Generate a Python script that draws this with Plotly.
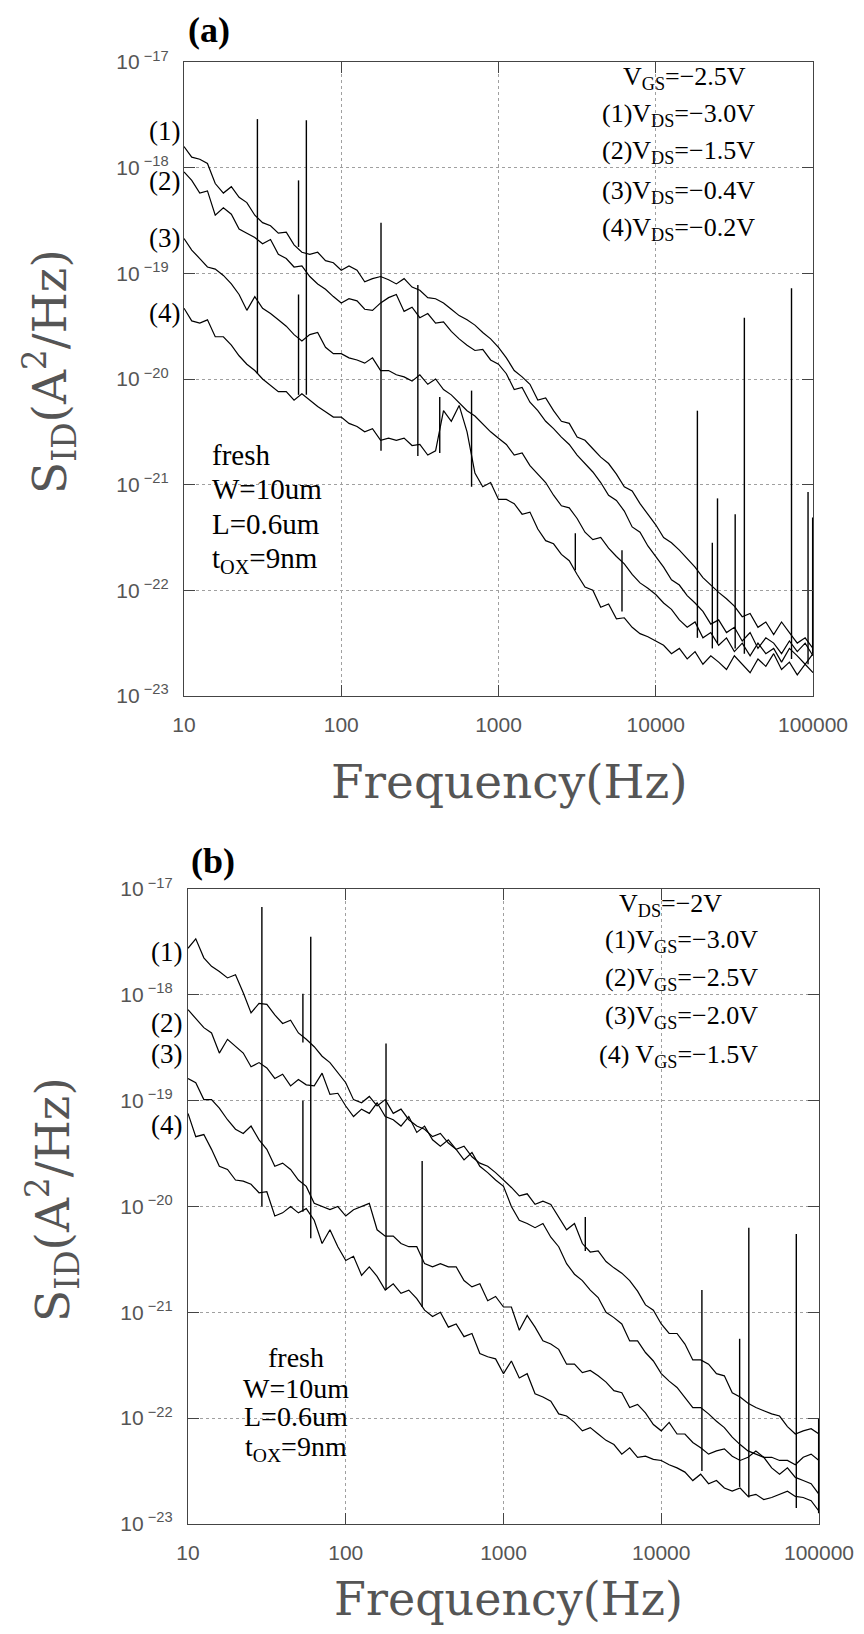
import plotly.graph_objects as go

W, H = 864, 1634
OFF = 8  # page body margin around the plot div
FW, FH = W - 2 * OFF, H - 2 * OFF

# sample frequencies (Hz), shared by all curves
freq = [10, 11.2, 12.6, 14.1, 15.8, 17.8, 20.0, 22.4, 25.1, 28.2,
        31.6, 35.5, 39.8, 44.7, 50.1, 56.2, 63.1, 70.8, 79.4, 89.1,
        100, 112, 126, 141, 158, 178, 200, 224, 251, 282,
        316, 355, 398, 447, 501, 562, 631, 708, 794, 891,
        1000, 1122, 1259, 1413, 1585, 1778, 1995, 2239, 2512, 2818,
        3162, 3548, 3981, 4467, 5012, 5623, 6310, 7079, 7943, 8913,
        10000, 11220, 12590, 14130, 15850, 17780, 19950, 22390, 25120, 28180,
        31620, 35480, 39810, 44670, 50120, 56230, 63100, 70790, 79430, 89130,
        100000]

# panel (a): log10 of S_ID, VGS=-2.5V
a1_exp = [-17.80, -17.90, -17.92, -17.96, -18.15, -18.24, -18.18, -18.28, -18.33, -18.45,
          -18.52, -18.55, -18.62, -18.61, -18.73, -18.80, -18.82, -18.80, -18.88, -18.90,
          -18.97, -18.93, -18.97, -19.08, -19.05, -19.03, -19.06, -19.10, -19.05, -19.13,
          -19.16, -19.23, -19.24, -19.28, -19.34, -19.40, -19.44, -19.49, -19.56, -19.62, -19.70,
          -19.80, -19.92, -19.98, -20.05, -20.20, -20.18, -20.30, -20.40, -20.42, -20.55,
          -20.58, -20.66, -20.74, -20.80, -20.90, -21.02, -21.06, -21.18, -21.28, -21.38,
          -21.50, -21.55, -21.62, -21.70, -21.78, -21.88, -21.95, -22.02, -22.08, -22.15,
          -22.25, -22.22, -22.35, -22.30, -22.42, -22.30, -22.40, -22.50, -22.45, -22.55]
a2_exp = [-18.04, -18.12, -18.24, -18.22, -18.45, -18.38, -18.44, -18.58, -18.62, -18.66,
          -18.72, -18.68, -18.82, -18.86, -18.94, -18.93, -19.03, -19.10, -19.15, -19.22,
          -19.28, -19.24, -19.26, -19.34, -19.35, -19.28, -19.23, -19.20, -19.36, -19.32,
          -19.42, -19.38, -19.47, -19.46, -19.55, -19.62, -19.68, -19.73, -19.72, -19.82, -19.86,
          -19.95, -20.10, -20.08, -20.22, -20.30, -20.40, -20.47, -20.55, -20.62, -20.72,
          -20.80, -20.88, -20.98, -21.10, -21.15, -21.25, -21.40, -21.45, -21.58, -21.68,
          -21.78, -21.90, -21.95, -22.05, -22.12, -22.20, -22.32, -22.28, -22.40, -22.35,
          -22.48, -22.40, -22.55, -22.45, -22.50, -22.60, -22.48, -22.58, -22.50, -22.62]
a3_exp = [-18.67, -18.78, -18.86, -18.94, -18.96, -19.02, -19.10, -19.20, -19.35, -19.22,
          -19.33, -19.38, -19.44, -19.50, -19.58, -19.64, -19.58, -19.56, -19.70, -19.76,
          -19.76, -19.80, -19.82, -19.85, -19.80, -19.92, -19.92, -19.96, -19.98, -20.02,
          -19.96, -20.05, -20.00, -20.10, -20.15, -20.22, -20.30, -20.35, -20.42, -20.50, -20.56,
          -20.62, -20.72, -20.70, -20.82, -20.90, -20.98, -21.10, -21.20, -21.22, -21.32,
          -21.45, -21.52, -21.50, -21.60, -21.68, -21.75, -21.85, -21.93, -21.98, -22.04,
          -22.12, -22.18, -22.28, -22.35, -22.30, -22.45, -22.40, -22.52, -22.45, -22.58,
          -22.50, -22.62, -22.50, -22.60, -22.55, -22.68, -22.55, -22.62, -22.70, -22.60]
a4_exp = [-19.33, -19.45, -19.47, -19.44, -19.60, -19.60, -19.68, -19.78, -19.86, -19.92,
          -20.00, -20.06, -20.12, -20.12, -20.20, -20.14, -20.20, -20.26, -20.31, -20.36,
          -20.36, -20.42, -20.45, -20.50, -20.47, -20.58, -20.56, -20.58, -20.56, -20.63,
          -20.62, -20.72, -20.68, -20.30, -20.40, -20.25, -20.50, -20.89, -21.02, -20.98, -21.14,
          -21.14, -21.18, -21.28, -21.26, -21.42, -21.53, -21.56, -21.66, -21.72, -21.85,
          -21.97, -22.00, -22.16, -22.13, -22.27, -22.26, -22.35, -22.41, -22.44, -22.48,
          -22.52, -22.60, -22.55, -22.65, -22.58, -22.70, -22.62, -22.68, -22.75, -22.62,
          -22.70, -22.78, -22.65, -22.72, -22.60, -22.75, -22.68, -22.80, -22.70, -22.78]

# panel (a) narrow peaks / jumps: frequency, foot, top (log10)
spike_f_a = [29.3, 53.5, 53.5, 60.0, 179, 307, 423, 674, 3080, 6100,
             18400, 22900, 24700, 32000, 36600, 73000, 93000, 99500]
spike_lo_a = [-19.95, -18.75, -20.15, -20.15, -20.68, -20.73, -20.70, -21.02, -21.81, -22.20,
              -22.45, -22.55, -22.50, -22.55, -22.60, -22.65, -22.70, -22.60]
spike_hi_a = [-17.54, -18.12, -19.20, -17.55, -18.52, -19.11, -20.17, -20.11, -21.46, -21.62,
              -20.30, -21.55, -21.13, -21.28, -19.42, -19.14, -21.07, -21.31]

# panel (b): log10 of S_ID, VDS=-2V
b1_exp = [-17.56, -17.47, -17.65, -17.73, -17.78, -17.84, -17.81, -17.98, -18.17, -18.08,
          -18.09, -18.19, -18.27, -18.24, -18.36, -18.42, -18.49, -18.58, -18.64, -18.74,
          -18.83, -18.99, -19.02, -18.96, -19.05, -18.99, -19.12, -19.08, -19.18, -19.24,
          -19.27, -19.34, -19.31, -19.40, -19.46, -19.43, -19.53, -19.59, -19.62, -19.68, -19.75,
          -19.82, -19.90, -19.88, -19.98, -19.95, -19.98, -20.10, -20.22, -20.16, -20.35,
          -20.43, -20.42, -20.52, -20.58, -20.63, -20.70, -20.80, -20.93, -20.98, -21.11,
          -21.20, -21.20, -21.30, -21.45, -21.45, -21.49, -21.58, -21.60, -21.76, -21.80,
          -21.86, -21.90, -21.93, -21.96, -21.98, -22.08, -22.15, -22.12, -22.10, -22.15]
b2_exp = [-18.14, -18.22, -18.31, -18.36, -18.55, -18.42, -18.49, -18.55, -18.68, -18.64,
          -18.69, -18.79, -18.75, -18.86, -18.80, -18.85, -18.86, -18.74, -18.94, -18.93,
          -19.05, -19.15, -19.08, -19.12, -19.02, -19.15, -19.18, -19.24, -19.15, -19.30,
          -19.24, -19.37, -19.43, -19.37, -19.46, -19.56, -19.49, -19.62, -19.68, -19.75, -19.81,
          -20.00, -20.13, -20.16, -20.20, -20.16, -20.29, -20.38, -20.54, -20.64, -20.70,
          -20.79, -20.86, -21.00, -21.05, -21.11, -21.27, -21.27, -21.38, -21.46, -21.58,
          -21.65, -21.71, -21.80, -21.90, -21.90, -21.96, -22.03, -22.09, -22.18, -22.25,
          -22.31, -22.34, -22.37, -22.37, -22.40, -22.40, -22.44, -22.37, -22.34, -22.40]
b3_exp = [-18.79, -18.83, -18.99, -18.99, -19.07, -19.18, -19.27, -19.31, -19.24, -19.37,
          -19.46, -19.62, -19.59, -19.65, -19.75, -19.81, -19.97, -20.00, -20.03, -20.00,
          -20.09, -20.03, -20.00, -19.97, -20.22, -20.28, -20.28, -20.35, -20.38, -20.38,
          -20.54, -20.57, -20.54, -20.57, -20.57, -20.70, -20.76, -20.73, -20.89, -20.85, -20.95,
          -20.95, -21.17, -21.03, -21.14, -21.27, -21.30, -21.35, -21.49, -21.49, -21.57,
          -21.55, -21.60, -21.66, -21.74, -21.76, -21.90, -21.87, -21.95, -22.06, -22.12,
          -22.04, -22.15, -22.15, -22.23, -22.28, -22.34, -22.31, -22.29, -22.36, -22.40,
          -22.37, -22.31, -22.37, -22.47, -22.53, -22.47, -22.56, -22.59, -22.62, -22.72]
b4_exp = [-19.12, -19.34, -19.32, -19.46, -19.62, -19.65, -19.75, -19.76, -19.79, -19.87,
          -19.86, -20.09, -20.06, -20.00, -20.06, -20.02, -20.13, -20.35, -20.22, -20.38,
          -20.51, -20.47, -20.65, -20.57, -20.66, -20.79, -20.73, -20.82, -20.79, -20.87,
          -20.98, -21.04, -21.00, -21.14, -21.11, -21.23, -21.20, -21.39, -21.42, -21.44, -21.58,
          -21.46, -21.62, -21.58, -21.77, -21.80, -21.84, -21.96, -21.98, -22.04, -22.12,
          -22.09, -22.15, -22.21, -22.25, -22.34, -22.28, -22.37, -22.36, -22.39, -22.40,
          -22.44, -22.47, -22.51, -22.59, -22.53, -22.62, -22.59, -22.66, -22.69, -22.66,
          -22.74, -22.72, -22.77, -22.75, -22.72, -22.69, -22.74, -22.75, -22.78, -22.88]

spike_f_b = [29.4, 53.5, 53.5, 60.0, 180, 305, 3300, 18100, 31400, 35900, 71800, 99500]
spike_lo_b = [-20.00, -18.45, -20.05, -20.30, -20.79, -20.95, -20.42, -22.50, -22.65, -22.75, -22.85, -22.90]
spike_hi_b = [-17.17, -17.99, -19.00, -17.45, -18.46, -19.57, -20.10, -20.79, -21.25, -20.20, -20.26, -22.00]

for s in [a1_exp, a2_exp, a3_exp, a4_exp, b1_exp, b2_exp, b3_exp, b4_exp]:
    assert len(s) == len(freq), len(s)

x_ticks = [10, 100, 1000, 10000, 100000]
y_ticks = [-23, -22, -21, -20, -19, -18, -17]


# page pixel -> paper fraction
def px(x):
    return (x - OFF) / FW


def py(y):
    return 1 - (y - OFF) / FH


fig = go.Figure()

panels = [
    ("x", "y", [a1_exp, a2_exp, a3_exp, a4_exp], spike_f_a, spike_lo_a, spike_hi_a),
    ("x2", "y2", [b1_exp, b2_exp, b3_exp, b4_exp], spike_f_b, spike_lo_b, spike_hi_b),
]
for xa, ya, curves, sf, slo, shi in panels:
    for c in curves:
        fig.add_trace(go.Scatter(x=freq, y=[10 ** v for v in c], mode="lines",
                                 line=dict(color="black", width=1.2),
                                 xaxis=xa, yaxis=ya, showlegend=False, hoverinfo="skip"))
    sx, sy = [], []
    for f, lo, hi in zip(sf, slo, shi):
        sx += [f, f, None]
        sy += [10 ** lo, 10 ** hi, None]
    fig.add_trace(go.Scatter(x=sx, y=sy, mode="lines", line=dict(color="black", width=1.4),
                             xaxis=xa, yaxis=ya, showlegend=False, hoverinfo="skip"))

axis_common = dict(showline=True, linecolor="#444", linewidth=1.2, mirror="ticks",
                   ticks="inside", ticklen=11, tickcolor="#444", tickwidth=1.2,
                   showgrid=True, gridcolor="#a0a0a0", griddash="dot", gridwidth=1,
                   zeroline=False, ticklabelstandoff=10, automargin=False)
xax = dict(axis_common, type="log", range=[1, 5], tickvals=x_ticks,
           ticktext=[str(v) for v in x_ticks],
           tickfont=dict(family="Liberation Sans", size=21, color="#555"))
yax = dict(axis_common, type="log", range=[-23.0005, -16.9995], tickvals=[10.0 ** v for v in y_ticks],
           ticktext=["10<sup> \u2212%d</sup>" % (-v) for v in y_ticks],
           tickfont=dict(family="Liberation Sans", size=21, color="#555"))

fig.update_layout(
    width=FW, height=FH, autosize=False,
    margin=dict(l=0, r=0, t=0, b=0, pad=0, autoexpand=False),
    paper_bgcolor="white", plot_bgcolor="white",
    xaxis=dict(xax, domain=[px(184), px(813)], anchor="y"),
    yaxis=dict(yax, domain=[py(696), py(62)], anchor="x"),
    xaxis2=dict(xax, domain=[px(188), px(819)], anchor="y2"),
    yaxis2=dict(yax, domain=[py(1524), py(889)], anchor="x2"),
)

ann = []


def text(x, y, s, size, xanchor="center", family="Liberation Serif", color="black", angle=0):
    ann.append(dict(x=px(x), y=py(y), xref="paper", yref="paper", text=s, showarrow=False,
                    xanchor=xanchor, yanchor="middle", textangle=angle,
                    font=dict(family=family, size=size, color=color)))


# panel (a)
text(186, 30, "<b>(a)</b>", 36, "left")
for lab, y in zip(["(1)", "(2)", "(3)", "(4)"], [131, 181, 238, 313]):
    text(182, y, lab, 27, "right")
text(748, 78, "V<sub>GS</sub>=\u22122.5V", 26, "right")
for lab, y in zip(["(1)V<sub>DS</sub>=\u22123.0V", "(2)V<sub>DS</sub>=\u22121.5V",
                   "(3)V<sub>DS</sub>=\u22120.4V", "(4)V<sub>DS</sub>=\u22120.2V"],
                  [115, 152, 192, 229]):
    text(757, y, lab, 26, "right")
for lab, y in zip(["fresh", "W=10um", "L=0.6um", "t<sub>OX</sub>=9nm"], [455, 489, 524, 560]):
    text(210, y, lab, 29, "left")
text(50, 372, "S<sub>ID</sub>(A<sup>2</sup>/Hz)", 47, family="DejaVu Serif", color="#555", angle=-90)
text(510, 782, "Frequency(Hz)", 47, family="DejaVu Serif", color="#555")

# panel (b)
text(189, 861, "<b>(b)</b>", 36, "left")
for lab, y in zip(["(1)", "(2)", "(3)", "(4)"], [952, 1023, 1054, 1125]):
    text(184, y, lab, 27, "right")
text(724, 905, "V<sub>DS</sub>=\u22122V", 26, "right")
for lab, y in zip(["(1)V<sub>GS</sub>=\u22123.0V", "(2)V<sub>GS</sub>=\u22122.5V",
                   "(3)V<sub>GS</sub>=\u22122.0V", "(4) V<sub>GS</sub>=\u22121.5V"],
                  [941, 979, 1017, 1056]):
    text(760, y, lab, 26, "right")
for lab, y in zip(["fresh", "W=10um", "L=0.6um", "t<sub>OX</sub>=9nm"], [1357, 1388, 1416, 1448]):
    text(296, y, lab, 28)
text(52, 1200, "S<sub>ID</sub>(A<sup>2</sup>/Hz)", 47, family="DejaVu Serif", color="#555", angle=-90)
text(508, 1599, "Frequency(Hz)", 46, family="DejaVu Serif", color="#555")

fig.update_layout(annotations=ann)

fig.write_html("out.html")
